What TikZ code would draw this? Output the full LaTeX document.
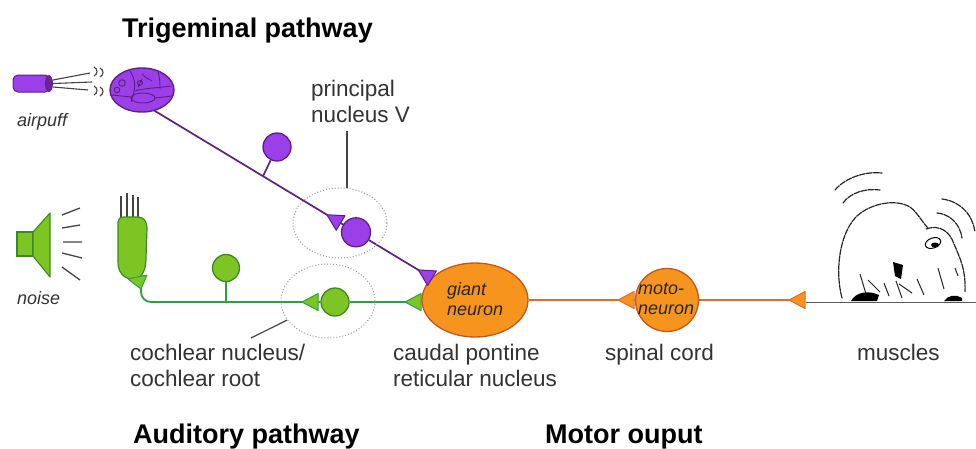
\documentclass[tikz,border=0pt]{standalone}
\usepackage{fontspec}
\setmainfont{Liberation Sans}
\usetikzlibrary{calc,shapes.geometric}

\definecolor{purfill}{HTML}{9B3FE8}
\definecolor{purline}{HTML}{5E2080}
\definecolor{grnfill}{HTML}{7DC425}
\definecolor{grnedge}{HTML}{3C8A1E}
\definecolor{grnline}{HTML}{2FA040}
\definecolor{orgfill}{HTML}{F7941E}
\definecolor{orgedge}{HTML}{C4561C}
\definecolor{orgline}{HTML}{E46A2C}
\definecolor{txtgray}{HTML}{333333}
\definecolor{inkgray}{HTML}{444444}

\pgfdeclarelayer{bg}
\pgfdeclarelayer{wires}
\pgfsetlayers{bg,wires,main}

\tikzset{
  lbl/.style={font=\fontsize{22.5}{26}\selectfont, text=txtgray, inner sep=0, align=left},
  ttl/.style={font=\fontsize{27}{30}\selectfont\bfseries, inner sep=0, anchor=base west},
  small/.style={font=\fontsize{18}{20}\selectfont\itshape, text=txtgray, inner sep=0},
  celltext/.style={font=\fontsize{18}{20}\selectfont\itshape, text=black!85, inner sep=0, align=left},
  purcell/.style={circle, draw=purline, fill=purfill, line width=1.3pt, minimum size=28pt, inner sep=0},
  grncell/.style={circle, draw=grnedge, fill=grnfill, line width=1.3pt, minimum size=27pt, inner sep=0},
  orgcell/.style={draw=orgedge, fill=orgfill, line width=1.3pt, inner sep=0},
  pax/.style={draw=purline, line width=1.7pt},
  gax/.style={draw=grnline, line width=1.8pt},
  oax/.style={draw=orgline, line width=1.8pt},
  ring/.style={ellipse, draw=gray!80, dash pattern=on 1pt off 2pt, line width=1pt, inner sep=0},
  leader/.style={draw=inkgray, line width=1.2pt},
  sketch/.style={draw=black!85, line width=1.2pt, dash pattern=on 6pt off 1.2pt, line cap=round},
  pics/syn/.style 2 args={code={
    \filldraw[fill=#1, draw=#2, line width=1pt, line join=round]
      (0,8.5) -- (0,-8.5) -- (-16,0) -- cycle;}}
}

\begin{document}
\begin{tikzpicture}[x=1pt,y=-1pt]
\useasboundingbox (0,0) rectangle (976,448);
\begin{pgfonlayer}{bg}
  \fill[white] (0,0) rectangle (976,448);
\end{pgfonlayer}

% ---------------- titles ----------------
\node[ttl] (t1) at (122,37) {Trigeminal pathway};
\node[ttl] (t2) at (133,443) {Auditory pathway};
\node[ttl] (t3) at (545,443) {Motor ouput};

% ---------------- airpuff stimulus ----------------
\filldraw[fill=purfill, draw=purline, line width=1pt, rounded corners=5pt]
  (13,75) rectangle (50,92);
\filldraw[fill=purline!80!purfill, draw=purline, line width=0.8pt] (49,83.5) ellipse (3.5 and 8);
\draw[inkgray, line width=1.1pt] (53,80) -- (90,73) (53,83.5) -- (92,82) (53,87) -- (88,90);
\foreach \yy in {67,86}{
  \draw[inkgray, line width=1.1pt]
    (94,\yy) .. controls (98,\yy+2) and (98,\yy+7) .. (94,\yy+9)
    (100,\yy+1) .. controls (104,\yy+3) and (104,\yy+8) .. (100,\yy+10);
}
\node[small, anchor=base west] (airpuff) at (17,126) {airpuff};

% ---------------- trigeminal ganglion ----------------
\node[ellipse, draw=purline, fill=purfill, line width=1.4pt, minimum width=64pt,
      minimum height=44pt, inner sep=0] (tg) at (142,90) {};
\begin{scope}[purline, line width=0.9pt]
  \draw (130,71) .. controls (136,80) and (136,88) .. (131,102);
  \draw (135,91) .. controls (145,88) and (158,88) .. (171,86);
  \draw (142,74) .. controls (146,78) and (150,80) .. (152,81);
  \draw (158,72) .. controls (160,78) and (160,84) .. (160,89);
  \draw (143,98) ellipse (12 and 5);
  \draw (112,95) -- (131,97) (155,98) -- (172,96);
  \draw (122,83) circle (3.3) (117,90) circle (2.8);
  \draw (140,83) circle (2.5) (138,87) -- (142,79);
\end{scope}
\coordinate (tgout) at (150,108);

% ---------------- trigeminal second-order cells ----------------
\node[purcell] (pside) at (277,147) {};
\coordinate (pstem) at (263,176.2);
\node[purcell, minimum size=29pt] (pv) at (356,232.3) {};
\coordinate (pvsyn) at (340.6,223.0);

% ---------------- giant neuron and motoneuron ----------------
\node[orgcell, ellipse, minimum width=106pt, minimum height=74pt] (giant) at (475,300) {};
\node[celltext, anchor=north west] (giantlab) at (447,282) {giant\\neuron};
\coordinate (gin) at (432,278.2);

\node[orgcell, circle, minimum size=63pt] (moto) at (667,300) {};
\node[celltext, anchor=north west] (motolab) at (638,283) {moto-\\neuron};

% ---------------- auditory stimulus ----------------
\filldraw[fill=grnfill, draw=grnedge, line width=1.1pt] (17,232) rectangle (33,256);
\filldraw[fill=grnfill, draw=grnedge, line width=1.1pt, line join=round]
  (33,232) -- (50,213) -- (50,277) -- (33,256) -- cycle;
\draw[inkgray, line width=1.3pt]
  (62,215) -- (80,208) (62,228) -- (80,225) (63,242) -- (82,242)
  (62,253) -- (82,258) (62,267) -- (80,280);
\node[small, anchor=base west] (noise) at (17,304) {noise};

% hair cell with its stereocilia
\draw[inkgray, line width=1.2pt] (121,196) -- (121,218) (127,193) -- (127,218)
  (133,195) -- (133,218) (138,197) -- (138,218);
\filldraw[fill=grnfill, draw=grnedge, line width=1.2pt]
  (118,222) -- (118,262) .. controls (118,276) and (128,280) .. (135,279)
  .. controls (143,278) and (146,268) .. (146,258) -- (147,228)
  .. controls (147,222) and (144,217) .. (138,217) -- (124,217)
  .. controls (120,217) and (118,219) .. (118,222) -- cycle;
\filldraw[fill=grnfill, draw=grnline, line width=1pt, line join=round]
  (128,279) -- (147,275) -- (141,289) -- cycle;
\coordinate (hcs) at (141,287);

% cochlear cells
\node[grncell] (gside) at (226,268) {};
\node[grncell, minimum size=28pt] (cn) at (335,302) {};

% ---------------- muscles (startled mouse) ----------------
\coordinate (musc) at (805,300);
\coordinate (gnd0) at (806,302);
\coordinate (gnd1) at (976,302);
\draw[gray!70!black, line width=0.9pt] (gnd0) -- (gnd1);
\begin{scope}
  \draw[sketch] (835,190) .. controls (845,178) and (865,171) .. (882,173);
  \draw[sketch] (843,203) .. controls (850,193) and (865,188) .. (880,190);
  \draw[sketch] (942,199) .. controls (958,201) and (972,212) .. (975,232);
  \draw[sketch] (937,213) .. controls (950,214) and (960,224) .. (962,238);
  % body and head
  \draw[sketch] (842,298) .. controls (835,272) and (839,236) .. (855,218)
    .. controls (868,204) and (895,198) .. (910,207)
    .. controls (918,213) and (922,222) .. (928,228);
  \draw[sketch] (926,229) .. controls (940,224) and (950,232) .. (954,244)
    .. controls (960,258) and (966,270) .. (965,292);
  % eye
  \draw[black, line width=1pt, rotate around={20:(933,243)}] (933,243) ellipse (8 and 5);
  \fill[black] (935,245) ellipse (4 and 2.5);
  % legs and paws
  \fill[black] (893,262) -- (903,265) -- (901,279) -- (895,276) -- cycle;
  \fill[black] (851,301) .. controls (856,292) and (868,290) .. (879,295) -- (877,301) -- cycle;
  \fill[black] (944,301) .. controls (948,295) and (956,294) .. (962,298) -- (962,301) -- cycle;
  \draw[black!85, line width=1pt]
    (860,274) -- (866,294) (868,280) -- (880,292) (884,283) -- (889,296)
    (899,284) -- (912,293) (917,279) -- (924,295) (938,268) -- (944,289)
    (955,268) -- (958,276) (896,281) -- (902,298);
\end{scope}

% ---------------- nuclei outlines and their labels ----------------
\node[ring, minimum width=94pt, minimum height=70pt] (pvring) at (340,223) {};
\node[ring, minimum width=94pt, minimum height=74pt] (cnring) at (328,301) {};

\node[lbl, anchor=north west] (pvlab) at (311,80) {principal\\nucleus V};
\coordinate (pvlead) at (347,131);
\draw[leader] (pvlead) -- (pvlead |- pvring.north);

\node[lbl, anchor=north west] (cnlab) at (130,344) {cochlear nucleus/\\cochlear root};
\coordinate (cnlead) at (251,338);
\draw[leader] (cnring.205) -- (cnlead);

\node[lbl, anchor=north west] (cplab) at (393,344) {caudal pontine\\reticular nucleus};
\node[lbl, anchor=base west] (sclab) at (605,360) {spinal cord};
\node[lbl, anchor=base west] (mulab) at (857,360) {muscles};

% ---------------- axons ----------------
\begin{pgfonlayer}{wires}
  \draw[pax] (tgout) -- (pv) -- (gin);
  \draw[pax] (pside) -- (pstem);
  \draw[gax, rounded corners=10pt] (hcs) |- (cn);
  \draw[gax] (cn) -- (cn -| giant.west);
  \draw[gax] (gside) -- (gside |- cn);
  \draw[oax] (giant) -- (moto);
  \draw[oax] (moto) -- (musc);
\end{pgfonlayer}

% ---------------- synaptic terminals ----------------
\pic[rotate=-31.1] at (pvsyn) {syn={purfill}{purline}};
\pic[rotate=-31.1] at (gin) {syn={purfill}{purline}};
\pic at (318,302) {syn={grnfill}{grnline}};
\pic at (421,302) {syn={grnfill}{grnline}};
\pic at (634,300) {syn={orgfill}{orgline}};
\pic at (musc) {syn={orgfill}{orgline}};
\end{tikzpicture}
\end{document}
